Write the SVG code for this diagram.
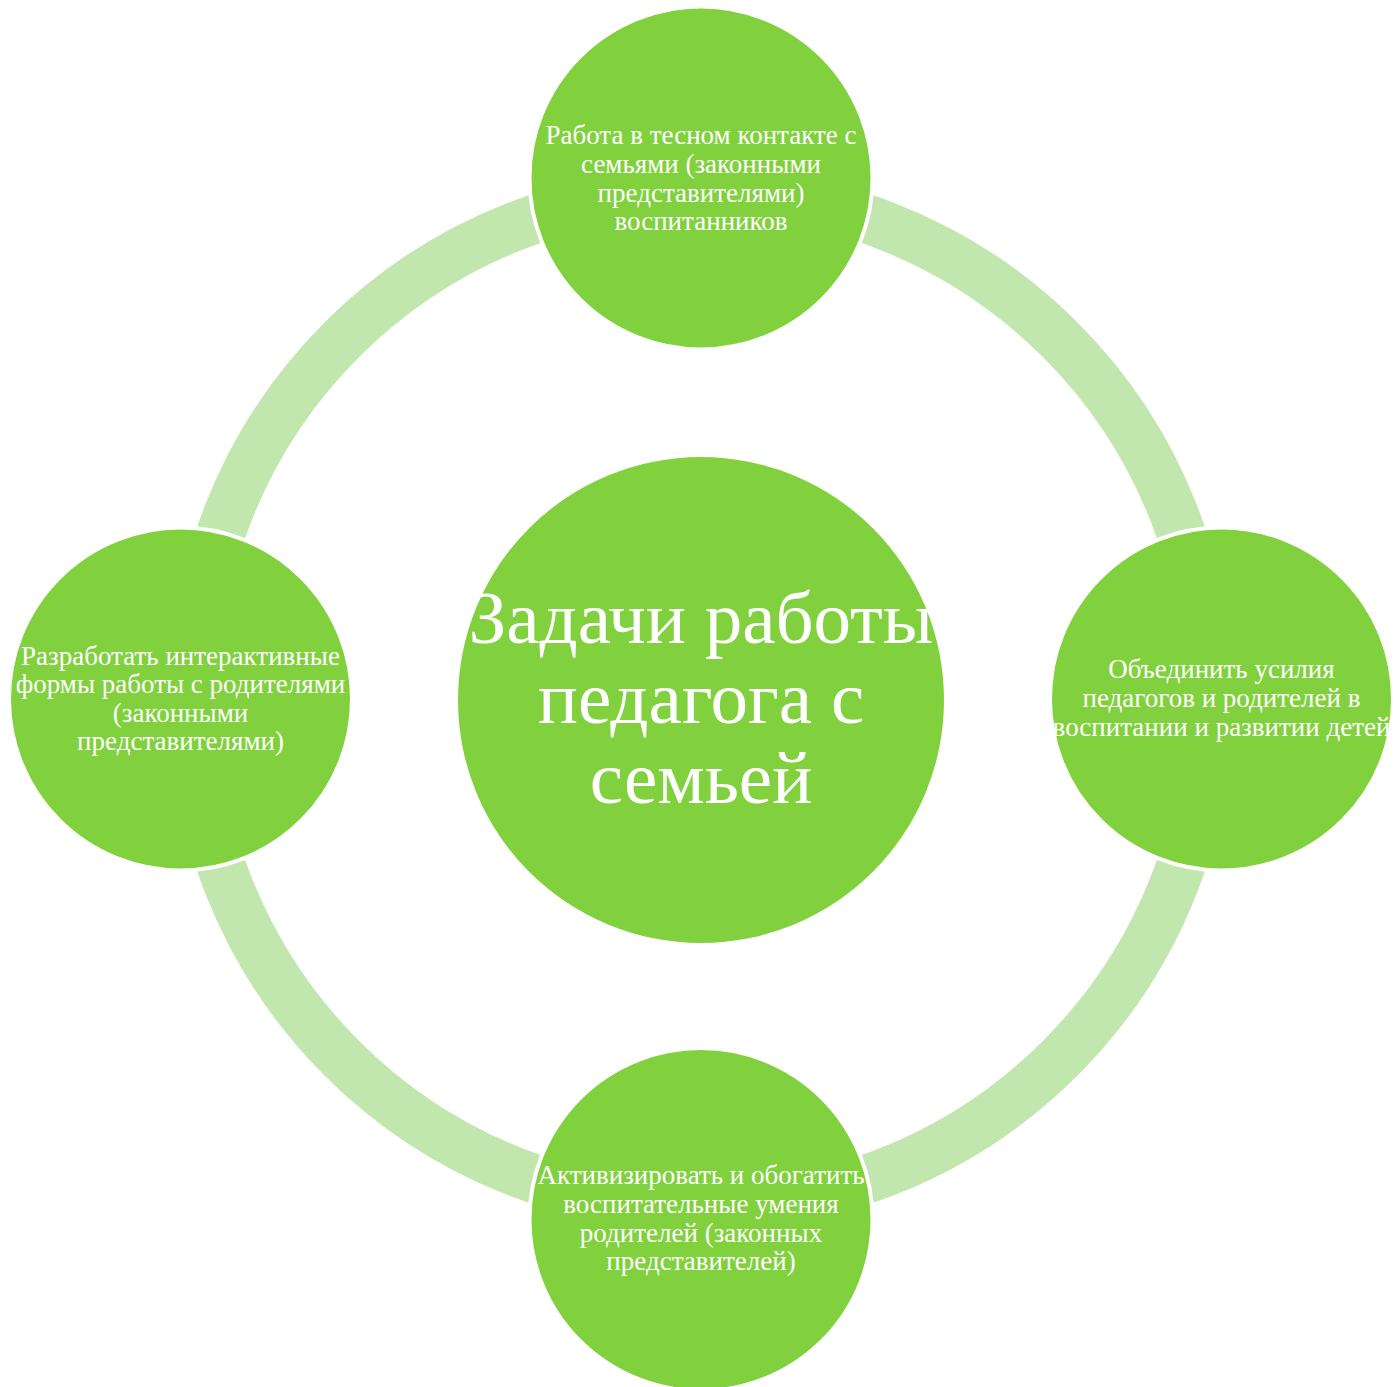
<svg xmlns="http://www.w3.org/2000/svg" width="1395" height="1387" viewBox="0 0 1395 1387">
<style>
.node{fill:#80D13D;stroke:#FFFFFF;stroke-width:4}
.lbl{font-family:"Liberation Serif","Times New Roman",serif;font-size:27px;fill:#FFFFFF;text-anchor:middle}
.big{font-family:"Liberation Serif","Times New Roman",serif;font-size:75px;fill:#FFFFFF;text-anchor:middle}
.ring{fill:none;stroke:#C1E6AE;stroke-width:49}
</style>
<rect width="1395" height="1387" fill="#FFFFFF"/>
<g id="connectors">
<circle class="ring" cx="701" cy="699" r="508"/>
</g>
<g id="center">
<circle cx="701" cy="700" r="243" fill="#80D13D"/>
<text class="big" x="701" y="643">Задачи работы</text>
<text class="big" x="701" y="723">педагога с</text>
<text class="big" x="701" y="803">семьей</text>
</g>
<g id="node-top">
<circle class="node" cx="701" cy="178" r="171.5"/>
<text class="lbl" x="701" y="144">Работа в тесном контакте с</text>
<text class="lbl" x="701" y="173">семьями (законными</text>
<text class="lbl" x="701" y="202">представителями)</text>
<text class="lbl" x="701" y="230">воспитанников</text>
</g>
<g id="node-right">
<circle class="node" cx="1221.5" cy="699" r="171.5"/>
<text class="lbl" x="1221.5" y="678">Объединить усилия</text>
<text class="lbl" x="1221.5" y="707">педагогов и родителей в</text>
<text class="lbl" x="1221.5" y="736">воспитании и развитии детей</text>
</g>
<g id="node-bottom">
<circle class="node" cx="701" cy="1219.5" r="171.5"/>
<text class="lbl" x="701" y="1184">Активизировать и обогатить</text>
<text class="lbl" x="701" y="1213">воспитательные умения</text>
<text class="lbl" x="701" y="1242">родителей (законных</text>
<text class="lbl" x="701" y="1270">представителей)</text>
</g>
<g id="node-left">
<circle class="node" cx="180.5" cy="699" r="171.5"/>
<text class="lbl" x="180.5" y="665">Разработать интерактивные</text>
<text class="lbl" x="180.5" y="693">формы работы с родителями</text>
<text class="lbl" x="180.5" y="722">(законными</text>
<text class="lbl" x="180.5" y="750">представителями)</text>
</g>
</svg>
